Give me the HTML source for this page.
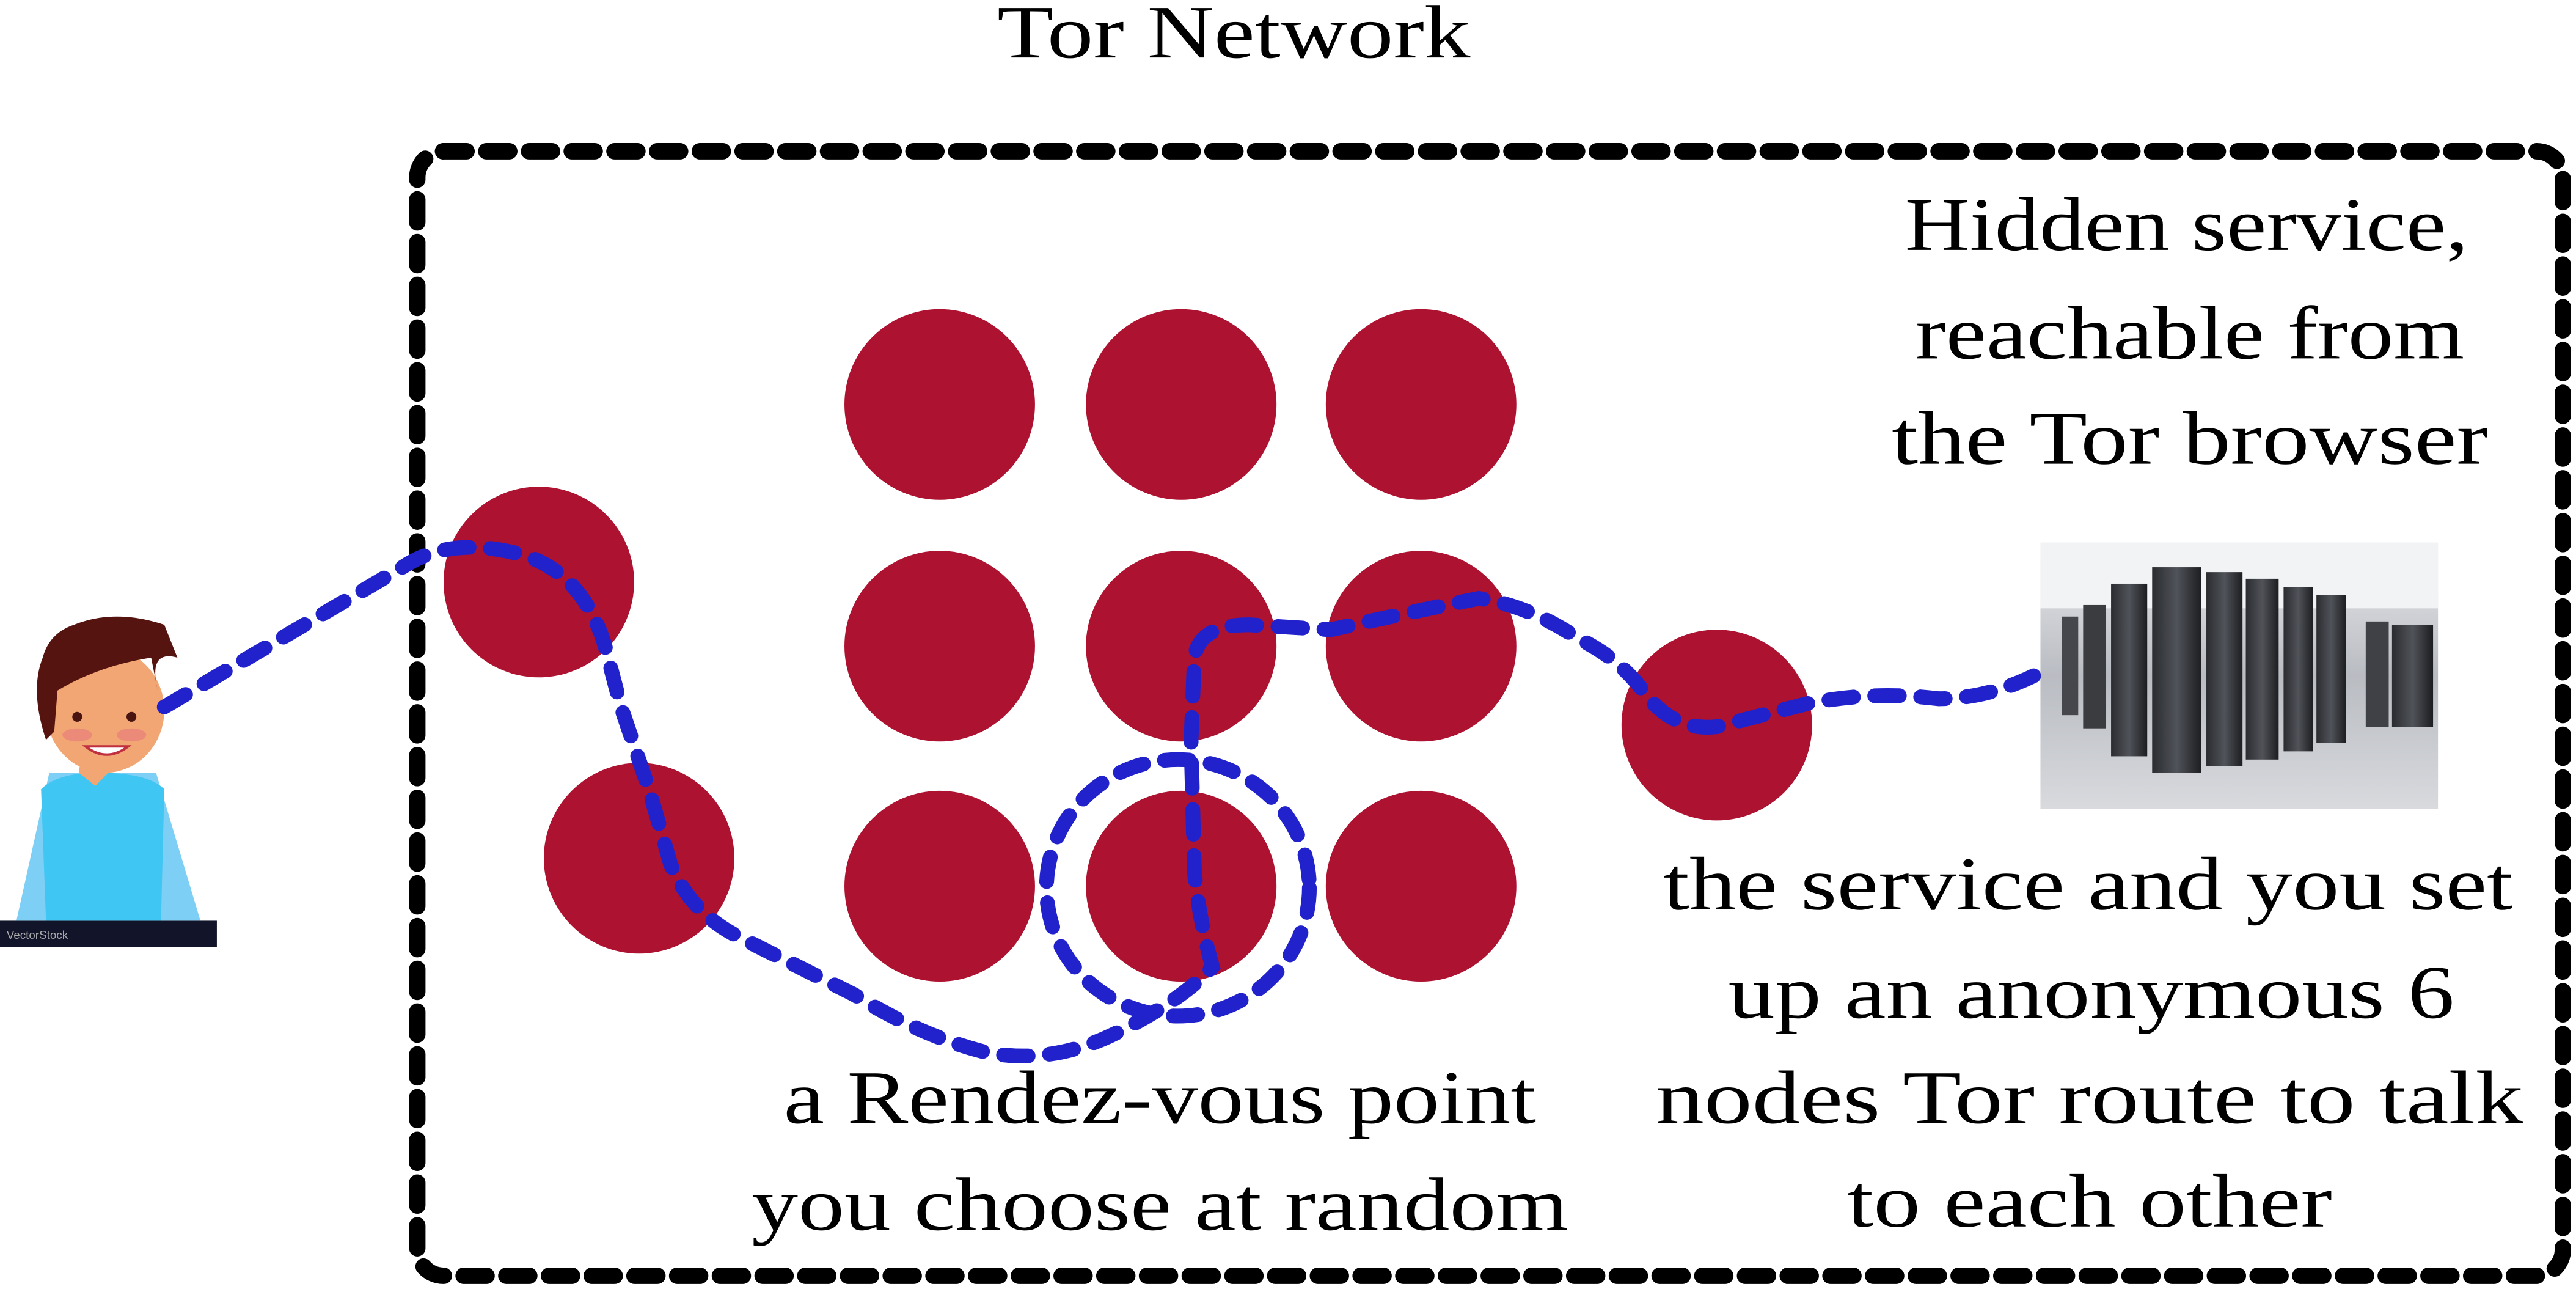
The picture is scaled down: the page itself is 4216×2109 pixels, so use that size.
<!DOCTYPE html>
<html><head><meta charset="utf-8"><style>
html,body{margin:0;padding:0;background:#fff;}
svg{display:block;}
text{font-family:"Liberation Serif",serif;font-size:46px;fill:#000;}
</style></head><body>
<svg width="4216" height="2109" viewBox="0 0 1568 784" preserveAspectRatio="none" xmlns="http://www.w3.org/2000/svg">
<defs>
<linearGradient id="floor" x1="0" y1="0" x2="0" y2="1">
<stop offset="0" stop-color="#e8e9ec"/><stop offset="0.5" stop-color="#b9bcc2"/><stop offset="1" stop-color="#d8dade"/>
</linearGradient>
<linearGradient id="rack" x1="0" y1="0" x2="1" y2="0">
<stop offset="0" stop-color="#2a2c30"/><stop offset="0.5" stop-color="#505359"/><stop offset="1" stop-color="#1c1d20"/>
</linearGradient>
</defs>
<rect width="1568" height="784" fill="#fff"/>
<text x="751" y="35" text-anchor="middle" textLength="288" lengthAdjust="spacingAndGlyphs">Tor Network</text>
<rect x="254" y="92" width="1306" height="684" rx="16" fill="none" stroke="#000" stroke-width="10" stroke-dasharray="14 12" stroke-linecap="round"/>
<g fill="#ad1230">
<circle cx="572" cy="246" r="58"/><circle cx="719" cy="246" r="58"/><circle cx="865" cy="246" r="58"/>
<circle cx="572" cy="393" r="58"/><circle cx="719" cy="393" r="58"/><circle cx="865" cy="393" r="58"/>
<circle cx="572" cy="539" r="58"/><circle cx="719" cy="539" r="58"/><circle cx="865" cy="539" r="58"/>
<circle cx="328" cy="354" r="58"/><circle cx="389" cy="522" r="58"/><circle cx="1045" cy="441" r="58"/>
</g>
<!-- person -->
<g>
<rect x="0" y="560" width="132" height="16" fill="#12152a"/>
<text x="4" y="571" style="font-family:'Liberation Sans',sans-serif;font-size:7px;fill:#aaa">VectorStock</text>
<path d="M10 560 L30 470 L95 470 L122 560 Z" fill="#7ecff5"/>
<path d="M28 560 L25 480 Q35 470 60 470 Q90 470 100 480 L98 560 Z" fill="#40c6f2"/>
<path d="M48 470 L58 478 L66 470 L64 455 L50 455 Z" fill="#f2a673"/>
<ellipse cx="64" cy="432" rx="36" rx2="0" ry="38" fill="#f2a673"/>
<path d="M28 450 Q18 420 26 400 Q30 385 45 380 Q70 370 100 380 L108 400 Q90 395 96 420 L92 400 Q60 405 35 420 L33 445 Z" fill="#55140f"/>
<ellipse cx="47" cy="447" rx="9" ry="4" fill="#eb8a78"/><ellipse cx="80" cy="447" rx="9" ry="4" fill="#eb8a78"/>
<circle cx="47" cy="436" r="3" fill="#4a1410"/><circle cx="80" cy="436" r="3" fill="#4a1410"/>
<path d="M52 454 Q65 464 78 454 Z" fill="#fff" stroke="#c03040" stroke-width="1.5"/>
</g>
<!-- server -->
<g>
<rect x="1242" y="330" width="242" height="162" fill="url(#floor)"/>
<rect x="1242" y="330" width="242" height="40" fill="#f2f3f5"/>
<rect x="1255" y="375" width="10" height="60" fill="#45474c"/>
<rect x="1268" y="368" width="14" height="75" fill="#3a3c40"/>
<rect x="1285" y="355" width="22" height="105" fill="url(#rack)"/>
<rect x="1310" y="345" width="30" height="125" fill="url(#rack)"/>
<rect x="1343" y="348" width="22" height="118" fill="url(#rack)"/>
<rect x="1367" y="352" width="20" height="110" fill="url(#rack)"/>
<rect x="1390" y="357" width="18" height="100" fill="url(#rack)"/>
<rect x="1410" y="362" width="18" height="90" fill="url(#rack)"/>
<rect x="1440" y="378" width="14" height="64" fill="#3f4146"/>
<rect x="1456" y="380" width="25" height="62" fill="url(#rack)"/>
</g>
<!-- blue paths -->
<g fill="none" stroke="#2222cc" stroke-width="9" stroke-linecap="round" stroke-dasharray="15 13">
<path d="M100 430 L245 345 Q275 325 320 338 Q355 350 368 392 L378 430 L395 480 L408 525 Q420 555 450 570 L520 605 Q560 630 600 640 Q640 648 680 628 Q720 608 738 588 Q730 560 727 530 L725 450 L727 400 Q730 380 760 380 L810 383 Q860 372 900 364 Q930 368 960 388 Q985 400 1000 420 Q1018 445 1045 442 L1100 428 Q1140 420 1180 425 Q1210 425 1240 410"/>
<ellipse cx="717" cy="540" rx="80" ry="78"/>
</g>
<!-- texts -->
<text x="1331" y="152" text-anchor="middle" textLength="343" lengthAdjust="spacingAndGlyphs">Hidden service,</text>
<text x="1333" y="218" text-anchor="middle" textLength="334" lengthAdjust="spacingAndGlyphs">reachable from</text>
<text x="1333" y="282" text-anchor="middle" textLength="363" lengthAdjust="spacingAndGlyphs">the Tor browser</text>
<text x="1271" y="553" text-anchor="middle" textLength="517" lengthAdjust="spacingAndGlyphs">the service and you set</text>
<text x="1273" y="619" text-anchor="middle" textLength="442" lengthAdjust="spacingAndGlyphs">up an anonymous 6</text>
<text x="1272" y="683" text-anchor="middle" textLength="528" lengthAdjust="spacingAndGlyphs">nodes Tor route to talk</text>
<text x="1272" y="746" text-anchor="middle" textLength="295" lengthAdjust="spacingAndGlyphs">to each other</text>
<text x="706" y="683" text-anchor="middle" textLength="458" lengthAdjust="spacingAndGlyphs">a Rendez-vous point</text>
<text x="706" y="748" text-anchor="middle" textLength="497" lengthAdjust="spacingAndGlyphs">you choose at random</text>
</svg>
</body></html>
